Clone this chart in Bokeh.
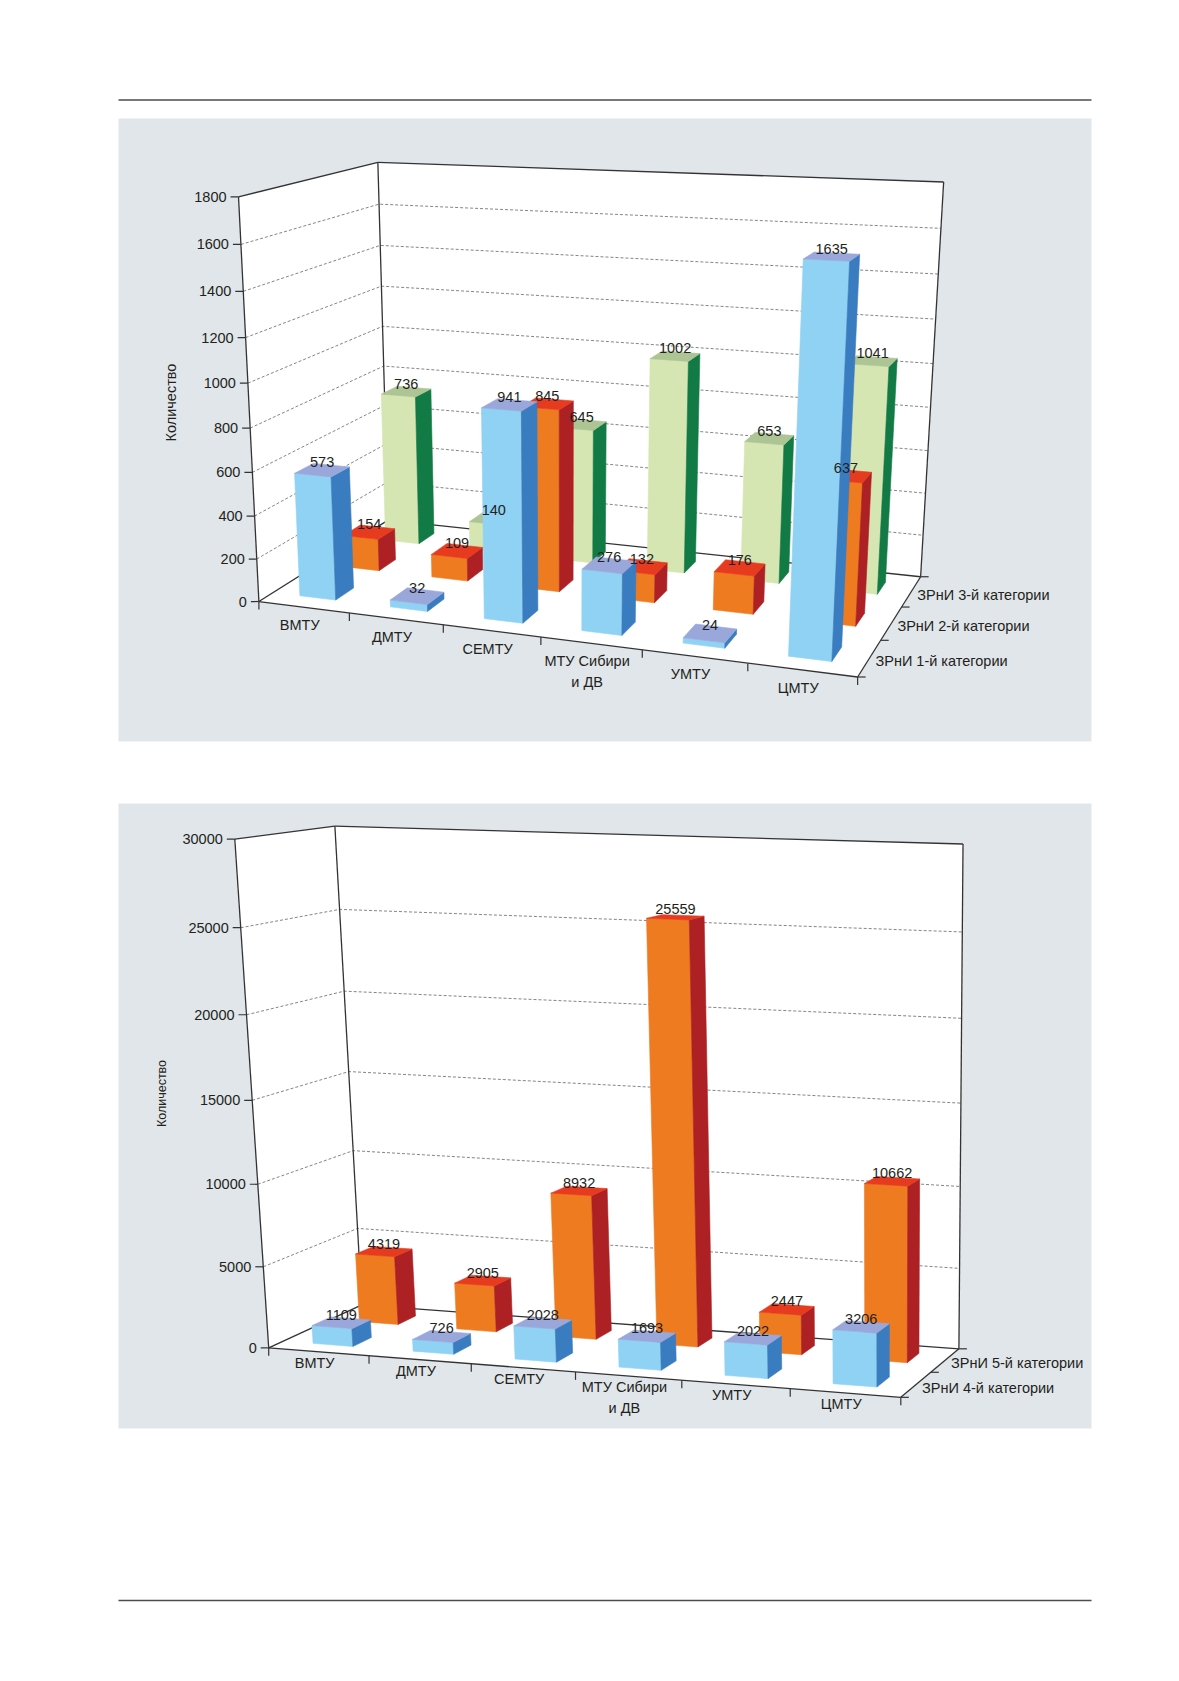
import numpy as np
from bokeh.plotting import figure
from bokeh.models import Range1d
from bokeh.embed import file_html
from bokeh.resources import INLINE
from bokeh.core.properties import value

# ---------------- data ----------------
categories = ["ВМТУ", "ДМТУ", "СЕМТУ", "МТУ Сибири\nи ДВ", "УМТУ", "ЦМТУ"]

series_top_names = ["ЗРнИ 1-й категории", "ЗРнИ 2-й категории", "ЗРнИ 3-й категории"]
top_cat1 = [573, 32, 941, 276, 24, 1635]
top_cat2 = [154, 109, 845, 132, 176, 637]
top_cat3 = [736, 140, 645, 1002, 653, 1041]
top_ticks = [0, 200, 400, 600, 800, 1000, 1200, 1400, 1600, 1800]

series_bot_names = ["ЗРнИ 4-й категории", "ЗРнИ 5-й категории"]
bot_cat4 = [1109, 726, 2028, 1693, 2022, 3206]
bot_cat5 = [4319, 2905, 8932, 25559, 2447, 10662]
bot_ticks = [0, 5000, 10000, 15000, 20000, 25000, 30000]

axis_title = "Количество"

# ---------------- style ----------------
FONT = "Liberation Sans"
FS = "14.5px"
TXT = "#231f20"
PANEL = "#e1e6ea"
BLUE = ("#8fd2f4", "#3a7cc0", "#9aa7db")     # front, side, top
ORANGE = ("#ef7b20", "#ad2023", "#e63b1f")
GREEN = ("#d5e6b2", "#127a45", "#adc495")

W, H = 1163, 1660
p = figure(width=W, height=H, x_range=Range1d(0, W), y_range=Range1d(H, 0),
           x_axis_type=None, y_axis_type=None, toolbar_location=None,
           output_backend="svg", min_border=0)
p.grid.visible = False
p.outline_line_color = None
p.background_fill_color = "white"
p.border_fill_color = "white"

# page frame
p.quad(left=[118, 118], right=[1091, 1091], top=[118, 803], bottom=[741, 1428],
       fill_color=PANEL, line_color=None)
p.segment(x0=[118, 118], x1=[1091, 1091], y0=[99.5, 1600], y1=[99.5, 1600],
          line_color="#4d4d4d", line_width=1.5)


def make_camera(anchors, ncat, nser, zmax):
    """Fit a perspective projection (DLT) from frame anchor points."""
    Wd = np.array([a[0] for a in anchors], float) / np.array([ncat, nser, zmax])
    S = np.array([a[1] for a in anchors], float)
    mu = S.mean(0)
    sc = S.std()
    Sn = (S - mu) / sc
    rows = []
    for (X, Y, Z), (u, v) in zip(Wd, Sn):
        rows.append([X, Y, Z, 1, 0, 0, 0, 0, -u * X, -u * Y, -u * Z, -u])
        rows.append([0, 0, 0, 0, X, Y, Z, 1, -v * X, -v * Y, -v * Z, -v])
    _, _, vt = np.linalg.svd(np.array(rows))
    M = vt[-1].reshape(3, 4)

    def proj(X, Y, Z):
        X = np.atleast_1d(np.asarray(X, float)) / ncat
        Y = np.atleast_1d(np.asarray(Y, float)) / nser
        Z = np.atleast_1d(np.asarray(Z, float)) / zmax
        n = max(len(X), len(Y), len(Z))
        X = np.broadcast_to(X, n); Y = np.broadcast_to(Y, n); Z = np.broadcast_to(Z, n)
        h = M @ np.vstack([X, Y, Z, np.ones(n)])
        return h[0] / h[2] * sc + mu[0], h[1] / h[2] * sc + mu[1]
    return proj


def draw_chart(proj, series_vals, series_names, colors, ticks, title_xy, title_size,
               cat_dy):
    ncat = len(categories)
    nser = len(series_vals)
    zmax = ticks[-1]

    # walls and floor
    faces = [
        ([0, 0, 0, 0], [0, nser, nser, 0], [0, 0, zmax, zmax]),
        ([0, ncat, ncat, 0], [nser] * 4, [0, 0, zmax, zmax]),
        ([0, ncat, ncat, 0], [0, 0, nser, nser], [0] * 4),
    ]
    xs, ys = [], []
    for fx, fy, fz in faces:
        u, v = proj(fx, fy, fz)
        xs.append(list(u)); ys.append(list(v))
    p.patches(xs, ys, fill_color="white", line_color=None)

    # dashed gridlines
    gx, gy = [], []
    for t in ticks[1:-1]:
        u, v = proj([0, 0, ncat], [0, nser, nser], [t, t, t])
        gx.append(list(u)); gy.append(list(v))
    p.multi_line(gx, gy, line_color="#666666", line_width=0.8, line_dash="3 2")

    # frame edges
    edges = [
        ((0, 0, 0), (0, 0, zmax)), ((0, 0, zmax), (0, nser, zmax)),
        ((0, nser, 0), (0, nser, zmax)), ((0, nser, zmax), (ncat, nser, zmax)),
        ((ncat, nser, 0), (ncat, nser, zmax)), ((0, 0, 0), (ncat, 0, 0)),
        ((ncat, 0, 0), (ncat, nser, 0)), ((0, 0, 0), (0, nser, 0)),
        ((0, nser, 0), (ncat, nser, 0)),
    ]
    ex, ey = [], []
    for a, b in edges:
        u, v = proj([a[0], b[0]], [a[1], b[1]], [a[2], b[2]])
        ex.append(list(u)); ey.append(list(v))
    p.multi_line(ex, ey, line_color="#333333", line_width=1.3)

    # value axis ticks + labels
    tu, tv = proj(0, 0, ticks)
    p.segment(x0=tu - 8, x1=tu, y0=tv, y1=tv, line_color="#333333", line_width=1.2)
    p.text(tu - 12, tv, text=[str(t) for t in ticks], text_font=value(FONT),
           text_font_size=FS, text_align="right", text_baseline="middle",
           text_color=TXT)

    # category ticks + labels
    cu, cv = proj(np.arange(ncat + 1), 0, 0)
    p.segment(x0=cu, x1=cu, y0=cv, y1=cv + 8, line_color="#333333", line_width=1.2)
    lu, lv = proj(np.arange(ncat) + 0.5, 0, 0)
    p.text(lu - 4, lv + cat_dy, text=categories, text_font=value(FONT),
           text_font_size=FS, text_align="center", text_baseline="top",
           text_color=TXT, text_line_height=1.3)

    # series ticks + labels
    su, sv = proj(ncat, np.arange(nser + 1), 0)
    p.segment(x0=su, x1=su + 8, y0=sv, y1=sv, line_color="#333333", line_width=1.2)
    mu_, mv_ = proj(ncat, np.arange(nser) + 0.5, 0)
    p.text(mu_ + 6, mv_ + 3, text=series_names, text_font=value(FONT),
           text_font_size=FS, text_align="left", text_baseline="middle",
           text_color=TXT)

    # bars (painter's order: back rows first, left to right)
    bw, bd = 0.4, 0.4
    pxs, pys, pcs = [], [], []
    lab_x, lab_y, lab_t = [], [], []
    for s in reversed(range(nser)):
        front, side, top = colors[s]
        for c in range(ncat):
            z = series_vals[s][c]
            x0, x1 = c + (1 - bw) / 2, c + (1 + bw) / 2
            y0, y1 = s + (1 - bd) / 2, s + (1 + bd) / 2
            quads = [
                (([x0, x1, x1, x0], [y0, y0, y0, y0], [0, 0, z, z]), front),
                (([x1, x1, x1, x1], [y0, y1, y1, y0], [0, 0, z, z]), side),
                (([x0, x1, x1, x0], [y0, y0, y1, y1], [z, z, z, z]), top),
            ]
            for (qx, qy, qz), col in quads:
                u, v = proj(qx, qy, qz)
                pxs.append(list(u)); pys.append(list(v)); pcs.append(col)
            u, v = proj([c + 0.5], [s + 0.5], [z])
            lab_x.append(u[0]); lab_y.append(v[0] - 8); lab_t.append(str(z))
    p.patches(pxs, pys, fill_color=pcs, line_color=pcs, line_width=0.6)
    p.text(lab_x, lab_y, text=lab_t, text_font=value(FONT), text_font_size=FS,
           text_align="center", text_baseline="middle", text_color=TXT)

    # axis title
    p.text([title_xy[0]], [title_xy[1]], text=[axis_title], angle=np.pi / 2,
           text_font=value(FONT), text_font_size=title_size, text_align="center",
           text_baseline="middle", text_color=TXT)


# ---------- chart 1 frame anchors (layout calibration) ----------
anchors_top = [
    ((0, 0, 0), (257.3, 597.3)), ((0, 0, 1000), (249.0, 378.0)),
    ((0, 0, 1800), (240.7, 195.7)), ((1, 0, 0), (349.3, 611.0)),
    ((2, 0, 0), (443.0, 624.5)), ((3, 0, 0), (540.7, 639.3)),
    ((4, 0, 0), (641.7, 653.3)), ((5, 0, 0), (745.7, 666.7)),
    ((6, 0, 0), (853.3, 677.7)), ((6, 1, 0), (881.7, 639.0)),
    ((6, 2, 0), (904.0, 604.0)), ((6, 3, 0), (922.7, 571.0)),
    ((6, 3, 1800), (939.3, 182.3)), ((0, 3, 1800), (377.7, 149.3)),
    ((0, 3, 1000), (382.0, 353.0)), ((0, 3, 0), (386.0, 511.0)),
]
proj_top = make_camera(anchors_top, 6, 3, 1800)
draw_chart(proj_top, [top_cat1, top_cat2, top_cat3], series_top_names,
           [BLUE, ORANGE, GREEN], top_ticks, (170, 402), "14.5px", 10)

# ---------- chart 2 frame anchors ----------
anchors_bot = [
    ((0, 0, 0), (268.5, 1344.3)), ((0, 0, 5000), (263.3, 1264.3)),
    ((0, 0, 10000), (258.3, 1183.3)), ((0, 0, 20000), (246.0, 1013.3)),
    ((0, 0, 25000), (240.0, 928.3)), ((0, 0, 30000), (235.0, 842.7)),
    ((1, 0, 0), (365.8, 1356.0)), ((2, 0, 0), (466.7, 1363.3)),
    ((5, 0, 0), (789.3, 1388.3)), ((6, 0, 0), (904.0, 1397.3)),
    ((6, 1, 0), (933.3, 1371.7)), ((6, 2, 0), (955.0, 1346.7)),
    ((6, 2, 30000), (962.3, 845.7)), ((6, 2, 20000), (960.3, 1016.7)),
    ((0, 2, 30000), (333.7, 820.0)), ((0, 2, 25000), (338.3, 906.0)),
    ((0, 2, 20000), (344.0, 991.7)), ((0, 2, 10000), (354.3, 1156.7)),
    ((0, 2, 5000), (359.3, 1229.3)),
]
proj_bot = make_camera(anchors_bot, 6, 2, 30000)
draw_chart(proj_bot, [bot_cat4, bot_cat5], series_bot_names,
           [BLUE, ORANGE], bot_ticks, (161, 1093), "12.5px", 3)

open("out.html", "w").write(file_html(p, INLINE))
